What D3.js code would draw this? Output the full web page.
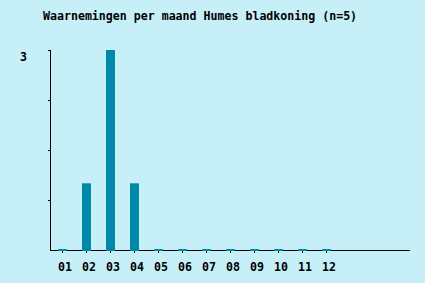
<!DOCTYPE html>
<html><head><meta charset="utf-8">
<script src="https://cdn.jsdelivr.net/npm/d3@7"></script>
<style>html,body{margin:0;padding:0;background:#c6eff8;}svg{display:block;}</style>
</head><body>
<script>
const months = ["01","02","03","04","05","06","07","08","09","10","11","12"];
const counts = [0,1,3,1,0,0,0,0,0,0,0,0];
const yTicks = [0,0.75,1.5,2.25,3];
const yLabels = [3];
const title = "Waarnemingen per maand Humes bladkoning (n=5)";

const W=425,H=283;
const font = "'DejaVu Sans Mono', monospace";
const svg=d3.select("body").append("svg").attr("width",W).attr("height",H);
svg.append("rect").attr("width",W).attr("height",H).attr("fill","#c6eff8");

const x=d3.scaleBand().domain(months).range([58,331]).paddingInner(0.625).paddingOuter(0);
const y=d3.scaleLinear().domain([0,3]).range([250,50]);

svg.append("text").attr("x",43).attr("y",20).attr("font-family",font).attr("font-weight","bold")
  .attr("font-size","11.6px").attr("fill","#000").text(title);

// axes lines
svg.append("line").attr("x1",50.5).attr("x2",50.5).attr("y1",y(3)).attr("y2",y(0)+1).attr("stroke","#000");
svg.append("line").attr("x1",50).attr("x2",410).attr("y1",y(0)+0.5).attr("y2",y(0)+0.5).attr("stroke","#000");

// y ticks
svg.selectAll(".yt").data(yTicks.filter(d=>d>0)).enter().append("line")
  .attr("x1",48).attr("x2",50).attr("y1",d=>y(d)+0.5).attr("y2",d=>y(d)+0.5).attr("stroke","#000");
svg.selectAll(".yl").data(yLabels).enter().append("text")
  .attr("x",20).attr("y",d=>y(d)+11).attr("font-family",font).attr("font-weight","bold")
  .attr("font-size","11.6px").text(d=>d);

// x ticks
svg.selectAll(".xt").data(months).enter().append("line")
  .attr("x1",d=>x(d)+4.5).attr("x2",d=>x(d)+4.5).attr("y1",y(0)).attr("y2",y(0)+3).attr("stroke","#000");

// bars
svg.selectAll(".bar").data(counts).enter().append("rect")
  .attr("x",(d,i)=>x(months[i]))
  .attr("y",d=>d>0?y(d):y(0)-1)
  .attr("width",x.bandwidth())
  .attr("height",d=>d>0?y(0)-y(d)+1:2)
  .attr("fill","#0088a8");

// x labels
svg.selectAll(".xl").data(months).enter().append("text")
  .attr("x",d=>x(d)).attr("y",271).attr("font-family",font).attr("font-weight","bold")
  .attr("font-size","11.6px").text(d=>d);
</script>
</body></html>
